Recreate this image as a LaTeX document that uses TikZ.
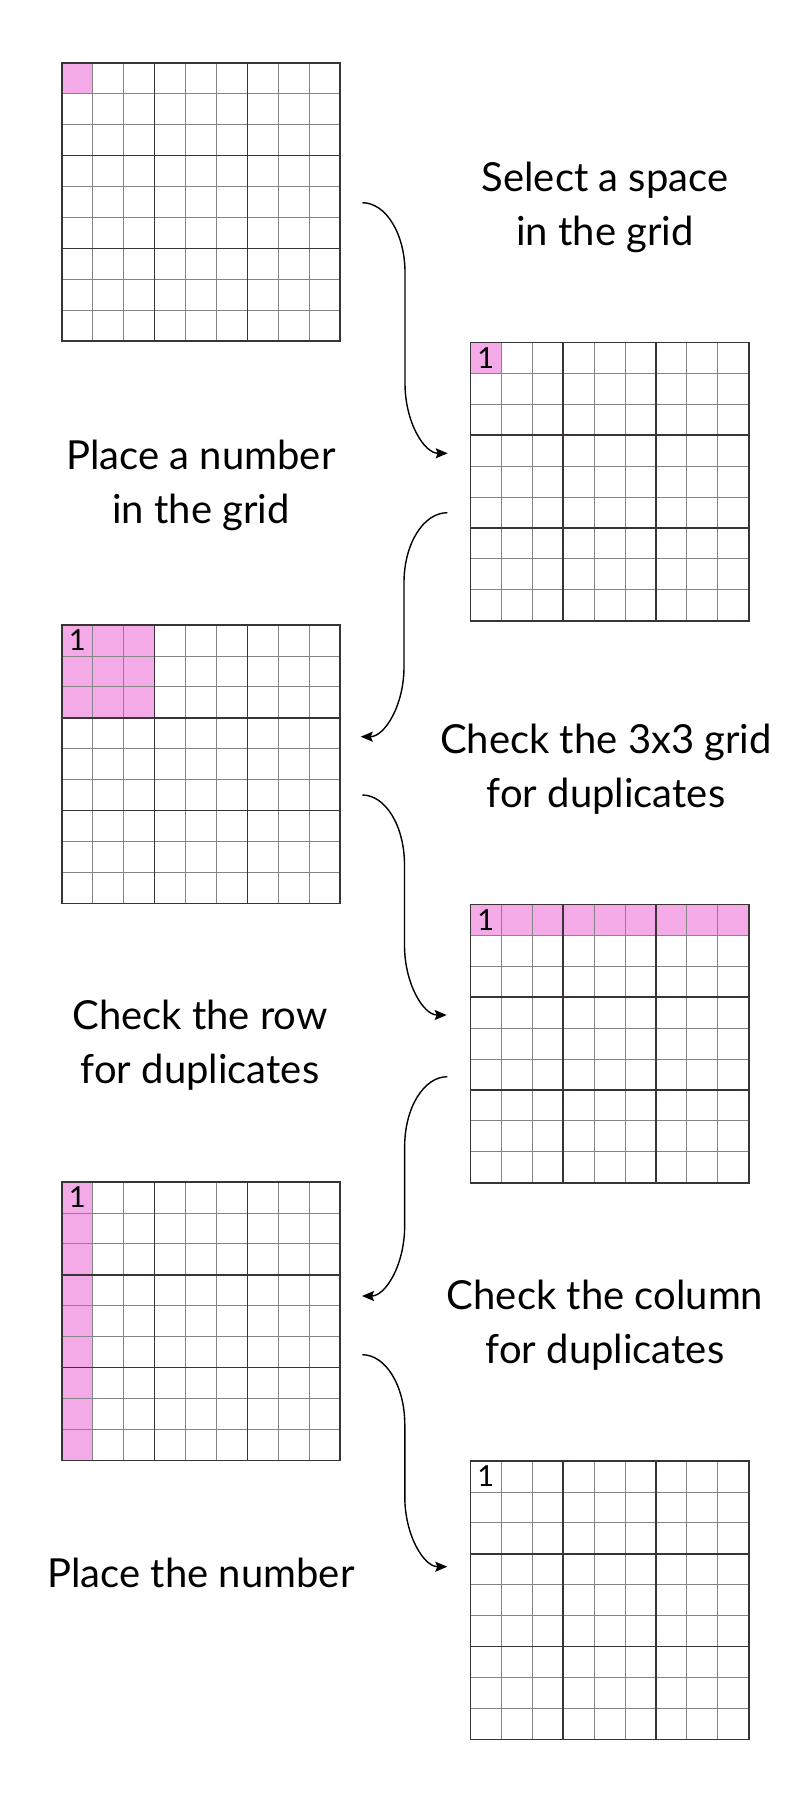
\documentclass[tikz,border=0pt]{standalone}
\usepackage{fontspec}
\setmainfont{Lato}
\usetikzlibrary{arrows.meta,calc}
\definecolor{gridc}{HTML}{3B3434}
\definecolor{thinc}{HTML}{858585}
\definecolor{pinkc}{HTML}{F5AAE8}
\newcommand\cs{30.944}
\newcommand\gs{278.5}
% #1 name, #2 x0, #3 y0, #4 fills (local coords)
\newcommand\sudokugrid[4]{%
  \begin{scope}[shift={(#2,#3)}]
    #4
    \foreach \i in {1,2,4,5,7,8} {
      \draw[thinline] (\i*\cs,0) -- (\i*\cs,\gs);
      \draw[thinline] (0,\i*\cs) -- (\gs,\i*\cs);
    }
    \foreach \i in {3,6} {
      \draw[thickline] (\i*\cs,0) -- (\i*\cs,\gs);
      \draw[thickline] (0,\i*\cs) -- (\gs,\i*\cs);
    }
  \end{scope}
  \node[gridframe] (#1) at (#2+139.25,#3+139.25) {};
}
\begin{document}
\begin{tikzpicture}[x=1pt,y=-1pt,
  thinline/.style={draw=thinc,line width=0.9pt},
  thickline/.style={draw=gridc,line width=1.6pt},
  gridframe/.style={draw=gridc,line width=1.6pt,minimum size=278.5pt,inner sep=0pt,outer sep=0pt},
  digit/.style={font=\fontsize{29pt}{34pt}\selectfont,inner sep=0pt,text=black},
  label/.style={font=\fontsize{40pt}{54pt}\selectfont,align=center,anchor=base,inner sep=0pt},
  arr/.style={draw=black,line width=1.4pt,-{Stealth[length=12pt,width=10pt,inset=2pt]}}]
\fill[white] (0,0) rectangle (810,1807);
\useasboundingbox (0,0) rectangle (810,1807);

% grids
\sudokugrid{g1}{61.7}{62.7}{\fill[pinkc] (0,0) rectangle (\cs,\cs);}
\sudokugrid{g2}{470.3}{342.3}{\fill[pinkc] (0,0) rectangle (\cs,\cs);}
\sudokugrid{g3}{61.7}{625}{\fill[pinkc] (0,0) rectangle (3*\cs,3*\cs);}
\sudokugrid{g4}{470.3}{904.3}{\fill[pinkc] (0,0) rectangle (\gs,\cs);}
\sudokugrid{g5}{61.7}{1182}{\fill[pinkc] (0,0) rectangle (\cs,\gs);}
\sudokugrid{g6}{470.3}{1461}{}

% digits
\node[digit] (d2) at ($(g2.north west)+(\cs/2,\cs/2)$) {1};
\node[digit] (d3) at ($(g3.north west)+(\cs/2,\cs/2)$) {1};
\node[digit] (d4) at ($(g4.north west)+(\cs/2,\cs/2)$) {1};
\node[digit] (d5) at ($(g5.north west)+(\cs/2,\cs/2)$) {1};
\node[digit] (d6) at ($(g6.north west)+(\cs/2,\cs/2)$) {1};

% labels (anchor = baseline of last line)
\node[label] (t1) at (605,245) {Select a space\\in the grid};
\node[label] (t2) at (201,523) {Place a number\\in the grid};
\node[label] (t3) at (606,807) {Check the 3x3 grid\\for duplicates};
\node[label] (t4) at (200,1083) {Check the row\\for duplicates};
\node[label] (t5) at (605,1363) {Check the column\\for duplicates};
\node[label] (t6) at (201,1587) {Place the number};

% arrow end points
\coordinate (a1s) at (362.3,202.7);  \coordinate (a1e) at (447.7,453.3);
\coordinate (a2s) at (447.3,512.7);  \coordinate (a2e) at (360.7,736.7);
\coordinate (a3s) at (362.3,795);    \coordinate (a3e) at (446.7,1015);
\coordinate (a4s) at (447.3,1076.7); \coordinate (a4e) at (362,1296);
\coordinate (a5s) at (362.3,1354.7); \coordinate (a5e) at (447.3,1566.7);

\foreach \k in {1,...,5} {
  \coordinate (m\k) at ($(a\k s)!0.5!(a\k e)$);
  \draw[arr] (a\k s)
    .. controls ($(a\k s)!0.55!(m\k |- a\k s)$) and ($(m\k |- a\k s)+(0,31)$) .. ($(m\k |- a\k s)+(0,70)$)
    -- ($(m\k |- a\k e)-(0,70)$)
    .. controls ($(m\k |- a\k e)-(0,31)$) and ($(a\k e)!0.55!(m\k |- a\k e)$) .. (a\k e);
}
\end{tikzpicture}
\end{document}
